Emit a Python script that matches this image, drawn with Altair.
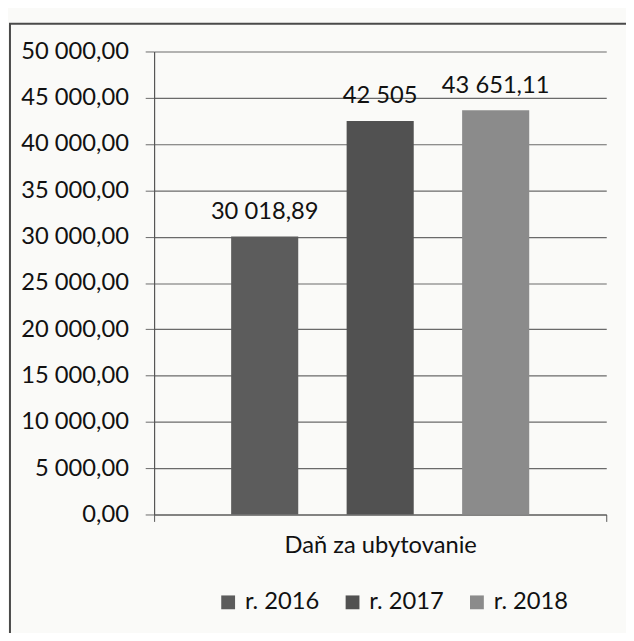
import altair as alt
import pandas as pd

category = ["Daň za ubytovanie"] * 3
series = ["r. 2016", "r. 2017", "r. 2018"]
values = [30018.89, 42505, 43651.11]
value_labels = ["30 018,89", "42 505", "43 651,11"]
colors = ["#5c5c5c", "#515151", "#8b8b8b"]

df = pd.DataFrame({"kategoria": category, "rok": series, "hodnota": values, "popis": value_labels})

FONT = "Lato"
FS = 24

frame = alt.Chart(pd.DataFrame({"a": [0]})).mark_rect(
    fillOpacity=0, stroke="#4a4a4a", strokeWidth=2
).encode(x=alt.value(-146), x2=alt.value(484), y=alt.value(-28), y2=alt.value(602))

x_enc = alt.X(
    "kategoria:N",
    scale=alt.Scale(paddingInner=0, paddingOuter=0),
    axis=alt.Axis(
        title=None, labelAngle=0, labelFont=FONT, labelFontSize=FS, labelColor="#111",
        labelPadding=13, labelLimit=0, tickBand="extent", tickSize=7, tickColor="#555",
        domainColor="#555", domainWidth=1.2,
    ),
)
xo_enc = alt.XOffset("rok:N", sort=series, scale=alt.Scale(paddingInner=0.419, paddingOuter=0.667))
y_enc = alt.Y(
    "hodnota:Q",
    scale=alt.Scale(domain=[0, 50000], nice=False),
    axis=alt.Axis(
        title=None, values=list(range(0, 50001, 5000)),
        labelExpr="replace(replace(format(datum.value, ',.2f'), /,/g, ' '), /\\./, ',')",
        labelFont=FONT, labelFontSize=FS, labelColor="#111", labelPadding=17,
        tickSize=9, tickColor="#6a6a6a", domainColor="#555", domainWidth=1.2,
        grid=True, gridColor="#6a6a6a", gridWidth=1.2,
    ),
)

bars = alt.Chart(df).mark_bar().encode(
    x=x_enc,
    xOffset=xo_enc,
    y=y_enc,
    color=alt.Color(
        "rok:N",
        scale=alt.Scale(domain=series, range=colors),
        legend=alt.Legend(
            title=None, orient="none", legendX=63, legendY=546, direction="horizontal",
            symbolType="square", symbolSize=196, symbolStrokeWidth=0,
            labelFont=FONT, labelFontSize=FS, labelColor="#111", labelOffset=5,
            columnPadding=21, padding=0,
        ),
    ),
)

texts = alt.Chart(df).mark_text(
    font=FONT, fontSize=FS, color="#111", baseline="alphabetic", dy=-18
).encode(x="kategoria:N", xOffset=xo_enc, y="hodnota:Q", text="popis:N")

chart = alt.layer(bars, texts, frame).properties(
    width=458, height=469,
    autosize=alt.AutoSizeParams(type="none"),
    padding={"left": 148, "top": 40, "right": 20, "bottom": 116},
    background="#fafaf8",
).configure_view(stroke=None)

chart.save("out.html", embed_options={"renderer": "svg", "actions": False})
